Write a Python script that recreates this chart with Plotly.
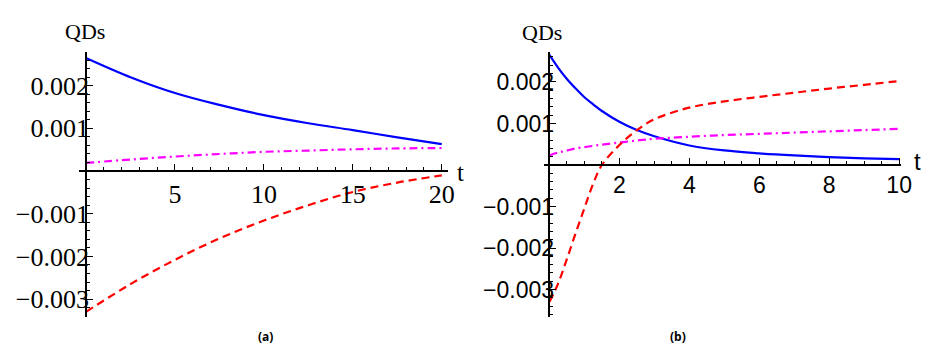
import plotly.graph_objects as go

# ---- panel (a): t from 0 to 20 ----
t_a = [0, 2.5, 5, 7.5, 10, 12.5, 15, 17.5, 20]
blue_a = [0.00265, 0.00220, 0.00183, 0.00155, 0.00131, 0.00112, 0.00096, 0.00079, 0.00063]
red_a = [-0.00330, -0.00265, -0.00208, -0.00158, -0.00116, -0.00080, -0.00049, -0.00027, -0.00010]
magenta_a = [0.00019, 0.00027, 0.00034, 0.00040, 0.00045, 0.00048, 0.00051, 0.00053, 0.00054]

# ---- panel (b): t from 0 to 10 ----
t_b = [0, 0.25, 0.5, 0.75, 1, 1.25, 1.5, 2, 2.5, 3, 4, 5, 6, 7, 8, 9, 10]
blue_b = [0.00265, 0.00234, 0.00207, 0.00184, 0.00163, 0.00146, 0.00130, 0.00104, 0.00084,
          0.00069, 0.00047, 0.00035, 0.00028, 0.00023, 0.00019, 0.00016, 0.00014]
red_b = [-0.00330, -0.00285, -0.00226, -0.00164, -0.00104, -0.00045, 0.00000, 0.00048, 0.00084,
         0.00110, 0.00138, 0.00153, 0.00164, 0.00174, 0.00184, 0.00193, 0.00202]
magenta_b = [0.00023, 0.00030, 0.00035, 0.00040, 0.00043, 0.00046, 0.00049, 0.00054, 0.00059,
             0.00063, 0.00068, 0.00072, 0.00075, 0.00078, 0.00081, 0.00084, 0.00087]

yticks = [-0.003, -0.002, -0.001, 0.001, 0.002]
ytick_text = ["\u22120.003", "\u22120.002", "\u22120.001", "0.001", "0.002"]
xticks_a = [5, 10, 15, 20]
xticks_b = [2, 4, 6, 8, 10]

W, H = 932, 344
SERIF = "Liberation Serif, Times New Roman, serif"
SANS = "Liberation Sans, Arial, sans-serif"

# panel geometry (pixels)
ydom = [27 / H, 292 / H]
xdom_a = [80 / W, 453 / W]
xdom_b = [550 / W, 912 / W]
xr_a = [-0.39, 20.33]
yr_a = [-0.00342, 0.00279]
xr_b = [-0.17, 10.06]
yr_b = [-0.00366, 0.00272]


def frac_pos(v, rng, dom):
    f = (v - rng[0]) / (rng[1] - rng[0])
    return dom[0] + f * (dom[1] - dom[0])


fig = go.Figure()

line_w = 2.2
for xs, ys, xa, ya in [(t_a, (blue_a, red_a, magenta_a), "x", "y"),
                       (t_b, (blue_b, red_b, magenta_b), "x2", "y2")]:
    b, r, m = ys
    fig.add_trace(go.Scatter(x=xs, y=b, mode="lines", xaxis=xa, yaxis=ya,
                             line=dict(color="#0000ff", width=line_w, shape="spline"),
                             showlegend=False))
    fig.add_trace(go.Scatter(x=xs, y=m, mode="lines", xaxis=xa, yaxis=ya,
                             line=dict(color="#ff00ff", width=line_w, shape="spline",
                                       dash="8px,4px,2px,4px"),
                             showlegend=False))
    fig.add_trace(go.Scatter(x=xs, y=r, mode="lines", xaxis=xa, yaxis=ya,
                             line=dict(color="#ff0000", width=line_w, shape="spline",
                                       dash="8px,5px"),
                             showlegend=False))


def xaxis_cfg(dom, rng, yr, ticks, minor_dt, font):
    return dict(domain=dom, range=rng, anchor="free",
                position=frac_pos(0, yr, ydom),
                showgrid=False, zeroline=False, showline=True,
                linecolor="black", linewidth=1.6,
                ticks="inside", ticklen=6, tickwidth=1.4, tickcolor="black",
                tickmode="array", tickvals=ticks, ticktext=[str(v) for v in ticks],
                tickfont=font,
                minor=dict(ticks="inside", ticklen=3, tickwidth=1.2, tickcolor="black",
                           dtick=minor_dt, tick0=0, showgrid=False))


def yaxis_cfg(rng, xdom, xr, font, standoff):
    return dict(domain=ydom, range=rng, anchor="free",
                position=frac_pos(0, xr, xdom),
                showgrid=False, zeroline=False, showline=True,
                linecolor="black", linewidth=1.6,
                ticks="inside", ticklen=6, tickwidth=1.4, tickcolor="black",
                tickmode="array", tickvals=yticks, ticktext=ytick_text,
                tickfont=font, ticklabelstandoff=standoff,
                minor=dict(ticks="inside", ticklen=3, tickwidth=1.2, tickcolor="black",
                           dtick=0.0002, tick0=0, showgrid=False))


font_a = dict(family=SERIF, size=26, color="black")
font_b = dict(family=SANS, size=23, color="black")

fig.update_layout(
    width=W, height=H,
    margin=dict(l=0, r=0, t=0, b=0),
    paper_bgcolor="white", plot_bgcolor="white",
    xaxis=xaxis_cfg(xdom_a, xr_a, yr_a, xticks_a, 1, font_a),
    yaxis=yaxis_cfg(yr_a, xdom_a, xr_a, font_a, -9),
    xaxis2=xaxis_cfg(xdom_b, xr_b, yr_b, xticks_b, 0.5, font_b),
    yaxis2=yaxis_cfg(yr_b, xdom_b, xr_b, font_b, -10),
)

ann = [
    dict(text="QDs", x=86, y=32, anchor="center", font=dict(family=SERIF, size=22, color="black")),
    dict(text="QDs", x=548, y=33, anchor="center", font=dict(family=SERIF, size=22, color="black")),
    dict(text="t", x=466, y=172, anchor="center", font=dict(family=SERIF, size=25, color="black")),
    dict(text="t", x=923, y=162, anchor="left", font=dict(family=SANS, size=24, color="black")),
    dict(text="<b>(a)</b>", x=269, y=336, anchor="center", font=dict(family="Open Sans, sans-serif", size=12, color="black")),
    dict(text="<b>(b)</b>", x=686, y=336, anchor="center", font=dict(family="Open Sans, sans-serif", size=12, color="black")),
]
for a in ann:
    fig.add_annotation(text=a["text"], x=a["x"] / W, y=1 - a["y"] / H,
                       xref="paper", yref="paper", showarrow=False,
                       xanchor=a["anchor"], yanchor="middle", font=a["font"])

fig.write_html("out.html")
